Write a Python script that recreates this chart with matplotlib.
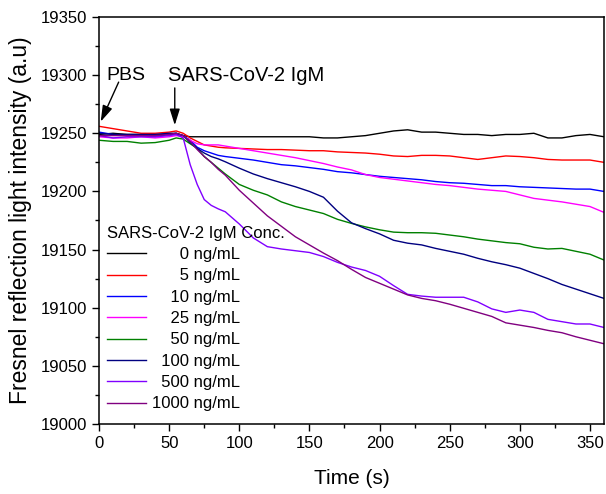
import matplotlib
matplotlib.use("Agg")
import matplotlib.pyplot as plt

# sampling times (s)
time_s = [0, 10, 20, 30, 40, 50, 55, 60, 65, 70, 75, 80, 85, 90,
          100, 110, 120, 130, 140, 150, 160, 170, 180, 190, 200, 210,
          220, 230, 240, 250, 260, 270, 280, 290, 300, 310, 320, 330,
          340, 350, 360]

conc_0 = [19249, 19250, 19249, 19249, 19249, 19249, 19250, 19248, 19247, 19247,
          19247, 19247, 19247, 19247, 19247, 19247, 19247, 19247, 19247, 19247,
          19246, 19246, 19247, 19248, 19250, 19252, 19253, 19251, 19251, 19250,
          19249, 19249, 19248, 19249, 19249, 19250, 19246, 19246, 19248, 19249,
          19247]
conc_5 = [19256, 19254, 19252, 19250, 19250, 19251, 19252, 19250, 19246, 19243,
          19240, 19239, 19238, 19237.5, 19237, 19236.5, 19236, 19236, 19235.5, 19235,
          19235, 19234, 19233.5, 19233, 19232, 19230.5, 19230, 19231, 19231, 19230.5,
          19229, 19227.5, 19229, 19230.5, 19230, 19229, 19227.5, 19227, 19227, 19227,
          19225]
conc_10 = [19251, 19249, 19248, 19248, 19247, 19249, 19249, 19248, 19244, 19238,
           19235, 19233, 19231, 19230, 19228.5, 19227, 19225, 19223, 19222, 19220.5,
           19219, 19217, 19216, 19214.5, 19213, 19212, 19211, 19210, 19208.5, 19207.5,
           19207, 19206, 19205, 19205, 19204, 19203.5, 19203, 19202.5, 19202, 19202,
           19200]
conc_25 = [19247, 19246, 19246, 19247, 19246, 19247, 19248, 19247, 19244, 19241,
           19240, 19240, 19240, 19239, 19237, 19235, 19233, 19231, 19229, 19226.5,
           19224, 19221, 19218.5, 19214.5, 19212, 19210.5, 19209, 19207.5, 19206, 19205,
           19203.5, 19202, 19201, 19200, 19197, 19194, 19192.5, 19191, 19189, 19187,
           19182]
conc_50 = [19244, 19243, 19243, 19241.5, 19242, 19244, 19246, 19245, 19241, 19237,
           19230, 19225, 19220, 19215, 19206, 19201, 19197, 19191, 19187, 19184,
           19181, 19176, 19172.5, 19169.5, 19167, 19165, 19164.5, 19164.5, 19164, 19162.5,
           19161, 19159, 19157.5, 19156, 19155, 19152, 19150.5, 19151, 19148.5, 19146,
           19141]
conc_100 = [19250, 19249, 19249, 19249, 19249, 19250, 19250, 19248, 19242, 19237,
            19233, 19230, 19228, 19225.5, 19220, 19215, 19211, 19207.5, 19204, 19200,
            19195, 19183, 19173, 19168, 19163.5, 19158, 19155.5, 19154, 19151, 19148.5,
            19146, 19142.5, 19139.5, 19137, 19134, 19129.5, 19125, 19120, 19116, 19112,
            19108]
conc_500 = [19248, 19246, 19247, 19247, 19247, 19248, 19249, 19246, 19223, 19206,
            19193, 19188, 19185, 19182.5, 19172, 19160, 19152.5, 19150.5, 19149, 19147.5,
            19144, 19139, 19135, 19132, 19127, 19119, 19111.5, 19110, 19109, 19109,
            19109, 19105, 19099, 19096, 19098, 19096, 19090, 19088, 19086, 19086,
            19083]
conc_1000 = [19248, 19248, 19248, 19248, 19248, 19249, 19250, 19248, 19243, 19236,
             19230, 19225, 19219, 19214, 19201, 19190, 19179, 19170, 19161, 19154,
             19147, 19140.5, 19133, 19126, 19121, 19116, 19111, 19108, 19106, 19103,
             19099.5, 19096, 19092.5, 19087, 19085, 19083, 19080.5, 19078.5, 19075, 19072,
             19069]

series = [conc_0, conc_5, conc_10, conc_25, conc_50, conc_100, conc_500, conc_1000]
conc_labels = ["0 ng/mL", "5 ng/mL", "10 ng/mL", "25 ng/mL", "50 ng/mL",
               "100 ng/mL", "500 ng/mL", "1000 ng/mL"]
colors = ["#000000", "#FF0000", "#0000FF", "#FF00FF", "#008000",
          "#000080", "#8000FF", "#800080"]

plt.rcParams.update({
    "font.family": ["Liberation Sans", "DejaVu Sans"],
    "font.size": 12,
    "axes.linewidth": 1.1,
    "xtick.direction": "out", "ytick.direction": "out",
    "xtick.major.size": 5, "ytick.major.size": 5,
    "xtick.minor.size": 3, "ytick.minor.size": 3,
    "xtick.major.width": 1.0, "ytick.major.width": 1.0,
    "xtick.minor.width": 1.0, "ytick.minor.width": 1.0,
})

fig = plt.figure(figsize=(6.06, 4.94), dpi=100)
ax = fig.add_axes([0.1634, 0.1417, 0.8333, 0.8239])

# right-align the legend labels (digits are two spaces wide)
longest = max(len(s.split()[0]) for s in conc_labels)
for vals, lab, col in zip(series, conc_labels, colors):
    pad = "  " * (longest - len(lab.split()[0]))
    ax.plot(time_s, vals, color=col, lw=1.0, label=pad + lab)

ax.set_xlim(0, 360)
ax.set_ylim(19000, 19350)
ax.set_xticks(range(0, 351, 50))
ax.set_xticks(range(25, 360, 50), minor=True)
ax.set_yticks(range(19000, 19351, 50))
ax.set_yticks(range(19025, 19350, 50), minor=True)
ax.set_xlabel("Time (s)", fontsize=15, labelpad=13)
ax.set_ylabel("Fresnel reflection light intensity (a.u)", fontsize=16.5, labelpad=6)

arrow = dict(arrowstyle="-|>,head_length=0.7,head_width=0.22", color="k",
             lw=1.0, mutation_scale=14, shrinkA=0, shrinkB=0)
ax.annotate("", xy=(1.2, 19260), xytext=(14, 19294), arrowprops=arrow)
ax.annotate("", xy=(54, 19257), xytext=(54, 19289), arrowprops=arrow)
ax.text(5.5, 19300, "PBS", fontsize=14, ha="left", va="center")
ax.text(49, 19300, "SARS-CoV-2 IgM", fontsize=14.5, ha="left", va="center")

leg = ax.legend(title="SARS-CoV-2 IgM Conc.", loc="lower left",
                bbox_to_anchor=(-0.013, -0.006), frameon=False, fontsize=12,
                title_fontsize=12, handlelength=2.3, handletextpad=0.4,
                labelspacing=0.38, alignment="left", borderpad=0.4)

fig.savefig("out.png", dpi=100)
